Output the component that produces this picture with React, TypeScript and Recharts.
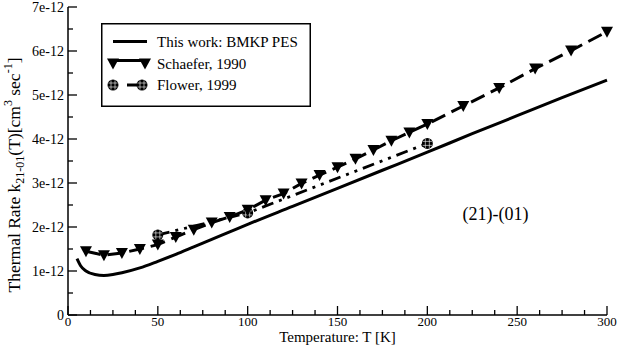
import { ComposedChart, Line, XAxis, YAxis, Legend, ReferenceDot } from 'recharts';

const FONT = '"Liberation Serif", "DejaVu Serif", serif';

// temperature in K, rate in units of 1e-12 cm^3 sec^-1
const bmkpT = [5, 7, 10, 15, 20, 25, 30, 40, 50, 60, 70, 80, 90, 100, 125, 150, 175, 200, 225, 250, 275, 300];
const bmkpRate = [1.28, 1.12, 1.0, 0.92, 0.9, 0.92, 0.96, 1.07, 1.22, 1.38, 1.55, 1.72, 1.89, 2.06, 2.47, 2.88, 3.29, 3.7, 4.12, 4.53, 4.94, 5.34];

const schaeferT = [10, 20, 30, 40, 50, 60, 70, 80, 90, 100, 110, 120, 130, 140, 150, 160, 170, 180, 190, 200, 220, 240, 260, 280, 300];
const schaeferRate = [1.45, 1.36, 1.41, 1.5, 1.6, 1.77, 1.94, 2.1, 2.23, 2.39, 2.61, 2.76, 2.99, 3.18, 3.36, 3.55, 3.75, 3.96, 4.15, 4.34, 4.75, 5.16, 5.6, 6.01, 6.44];

const flowerT = [50, 100, 200];
const flowerRate = [1.82, 2.32, 3.9];

const xMajorTicks = [0, 50, 100, 150, 200, 250, 300];
const yMajorTicks = [0, 1, 2, 3, 4, 5, 6, 7];
const yTickLabels = ['0', '1e-12', '2e-12', '3e-12', '4e-12', '5e-12', '6e-12', '7e-12'];

// minor ticks: 4 per major step on x, 2 on y
const xTicks = Array.from({ length: 25 }, (_, i) => i * 12.5);
const yTicks = Array.from({ length: 15 }, (_, i) => i * 0.5);

const bmkp = bmkpT.map((t, i) => ({ t, k: bmkpRate[i] }));
const schaefer = schaeferT.map((t, i) => ({ t, k: schaeferRate[i] }));
const flower = flowerT.map((t, i) => ({ t, k: flowerRate[i] }));

function XTick(props: any) {
  const { x, y, payload, side } = props;
  const major = xMajorTicks.includes(payload.value);
  const len = major ? 9 : 5;
  const dir = side === 'bottom' ? -1 : 1;
  return (
    <g>
      <line x1={x} x2={x} y1={y} y2={y + dir * len} stroke='#000' strokeWidth={1.3} />
      {side === 'bottom' && major && (
        <text x={x} y={y + 10.5} textAnchor='middle' fontSize={13} fontFamily={FONT} fill='#000'>
          {payload.value}
        </text>
      )}
    </g>
  );
}

function YTick(props: any) {
  const { x, y, payload, side } = props;
  const idx = yMajorTicks.indexOf(payload.value);
  const len = idx >= 0 ? 9 : 5;
  const dir = side === 'left' ? 1 : -1;
  return (
    <g>
      <line x1={x} x2={x + dir * len} y1={y} y2={y} stroke='#000' strokeWidth={1.3} />
      {side === 'left' && idx >= 0 && (
        <text x={x - 4} y={y + 5} textAnchor='end' fontSize={14} fontFamily={FONT} fill='#000'>
          {yTickLabels[idx]}
        </text>
      )}
    </g>
  );
}

function Triangle({ cx, cy }: { cx: number; cy: number }) {
  return <polygon points={`${cx - 6},${cy - 5} ${cx + 6},${cy - 5} ${cx},${cy + 6}`} fill='#000' />;
}

function Hatched({ cx, cy }: { cx: number; cy: number }) {
  const r = 5.5;
  const c = Math.sqrt(r * r - 4) - 0.5;
  return (
    <g>
      <circle cx={cx} cy={cy} r={r} fill='#000' />
      {[-2, 2].map((d) => (
        <g key={d}>
          <line x1={cx - c} x2={cx + c} y1={cy + d} y2={cy + d} stroke='#fff' strokeWidth={0.6} />
          <line x1={cx + d} x2={cx + d} y1={cy - c} y2={cy + c} stroke='#fff' strokeWidth={0.6} />
        </g>
      ))}
    </g>
  );
}

function LegendBox() {
  const rows = [18.5, 40.5, 62];
  return (
    <svg width={210} height={84} style={{ display: 'block' }}>
      <rect x={0.75} y={0.75} width={208.5} height={82.5} fill='#fff' stroke='#000' strokeWidth={1.5} />
      <line x1={12} x2={46} y1={rows[0]} y2={rows[0]} stroke='#000' strokeWidth={3} />
      <line x1={12} x2={44} y1={rows[1] - 3} y2={rows[1] - 3} stroke='#000' strokeWidth={3} />
      <Triangle cx={12} cy={rows[1]} />
      <Triangle cx={44} cy={rows[1]} />
      <line x1={26} x2={40} y1={rows[2]} y2={rows[2]} stroke='#000' strokeWidth={3} />
      <Hatched cx={12} cy={rows[2]} />
      <Hatched cx={41} cy={rows[2]} />
      {['This work: BMKP PES', 'Schaefer, 1990', 'Flower, 1999'].map((s, i) => (
        <text key={s} x={56} y={rows[i] + 5} fontSize={15} fontFamily={FONT} fill='#000'>
          {s}
        </text>
      ))}
    </svg>
  );
}

function YTitle(props: any) {
  const vb = props.viewBox || { x: 0, y: 7, width: 68, height: 308 };
  const cx = vb.x + 20;
  const cy = vb.y + vb.height / 2 + 14;
  return (
    <text x={cx} y={cy} transform={`rotate(-90 ${cx} ${cy})`} textAnchor='middle' fontSize={17.5} fontFamily={FONT} fill='#000'>
      Thermal Rate k<tspan fontSize={12} dy={4}>21-01</tspan>
      <tspan dy={-4}>(T)[cm</tspan>
      <tspan fontSize={12} dy={-8}>3</tspan>
      <tspan dy={8}> sec</tspan>
      <tspan fontSize={12} dy={-8}>-1</tspan>
      <tspan dy={8}>]</tspan>
    </text>
  );
}

function XTitle(props: any) {
  const vb = props.viewBox || { x: 68, y: 315, width: 539, height: 30 };
  return (
    <text x={vb.x + vb.width / 2} y={vb.y + 27} textAnchor='middle' fontSize={15} fontFamily={FONT} fill='#000'>
      Temperature: T [K]
    </text>
  );
}

export default function App() {
  return (
    <div style={{ position: 'absolute', left: 0, top: 0, width: 621, height: 345, background: '#fff' }}>
      <ComposedChart width={621} height={345} margin={{ top: 7, right: 14, bottom: 0, left: 0 }}>
        <XAxis
          xAxisId='b'
          type='number'
          dataKey='t'
          domain={[0, 300]}
          ticks={xTicks}
          interval={0}
          height={30}
          tickSize={0}
          tickMargin={0}
          tickLine={false}
          axisLine={{ stroke: '#000', strokeWidth: 1.5 }}
          tick={(p: any) => <XTick {...p} side='bottom' />}
          label={{ content: (p: any) => <XTitle {...p} /> }}
        />
        <XAxis
          xAxisId='t'
          orientation='top'
          type='number'
          dataKey='t'
          domain={[0, 300]}
          ticks={xTicks}
          interval={0}
          height={0}
          tickSize={0}
          tickMargin={0}
          tickLine={false}
          axisLine={{ stroke: '#000', strokeWidth: 1.5 }}
          tick={(p: any) => <XTick {...p} side='top' />}
        />
        <YAxis
          yAxisId='l'
          type='number'
          domain={[0, 7]}
          ticks={yTicks}
          interval={0}
          width={68}
          tickSize={0}
          tickMargin={0}
          tickLine={false}
          axisLine={{ stroke: '#000', strokeWidth: 1.5 }}
          tick={(p: any) => <YTick {...p} side='left' />}
          label={{ content: (p: any) => <YTitle {...p} /> }}
        />
        <YAxis
          yAxisId='r'
          orientation='right'
          type='number'
          domain={[0, 7]}
          ticks={yTicks}
          interval={0}
          width={0}
          tickSize={0}
          tickMargin={0}
          tickLine={false}
          axisLine={{ stroke: '#000', strokeWidth: 1.5 }}
          tick={(p: any) => <YTick {...p} side='right' />}
        />
        <Line
          xAxisId='b'
          yAxisId='l'
          data={bmkp}
          dataKey='k'
          type='monotone'
          stroke='#000'
          strokeWidth={3}
          dot={false}
          isAnimationActive={false}
        />
        <Line
          xAxisId='b'
          yAxisId='l'
          data={flower}
          dataKey='k'
          type='linear'
          stroke='#000'
          strokeWidth={2.8}
          strokeDasharray='12 6 3 6 3 6'
          dot={(p: any) => <Hatched key={`f${p.index}`} cx={p.cx} cy={p.cy} />}
          isAnimationActive={false}
        />
        <Line
          xAxisId='b'
          yAxisId='l'
          data={schaefer}
          dataKey='k'
          type='linear'
          stroke='#000'
          strokeWidth={3}
          strokeDasharray='15 7'
          dot={(p: any) => <Triangle key={`s${p.index}`} cx={p.cx} cy={p.cy} />}
          isAnimationActive={false}
        />
        <ReferenceDot
          xAxisId='b'
          yAxisId='l'
          x={238}
          y={2.31}
          r={1}
          fill='none'
          stroke='none'
          label={{ value: '(21)-(01)', position: 'center', fontSize: 18, fontFamily: FONT, fill: '#000' }}
        />
        <Legend
          layout='horizontal'
          verticalAlign='middle'
          align='center'
          content={() => <LegendBox />}
          wrapperStyle={{ left: 101, top: 23, width: 210, height: 84 }}
        />
      </ComposedChart>
    </div>
  );
}
